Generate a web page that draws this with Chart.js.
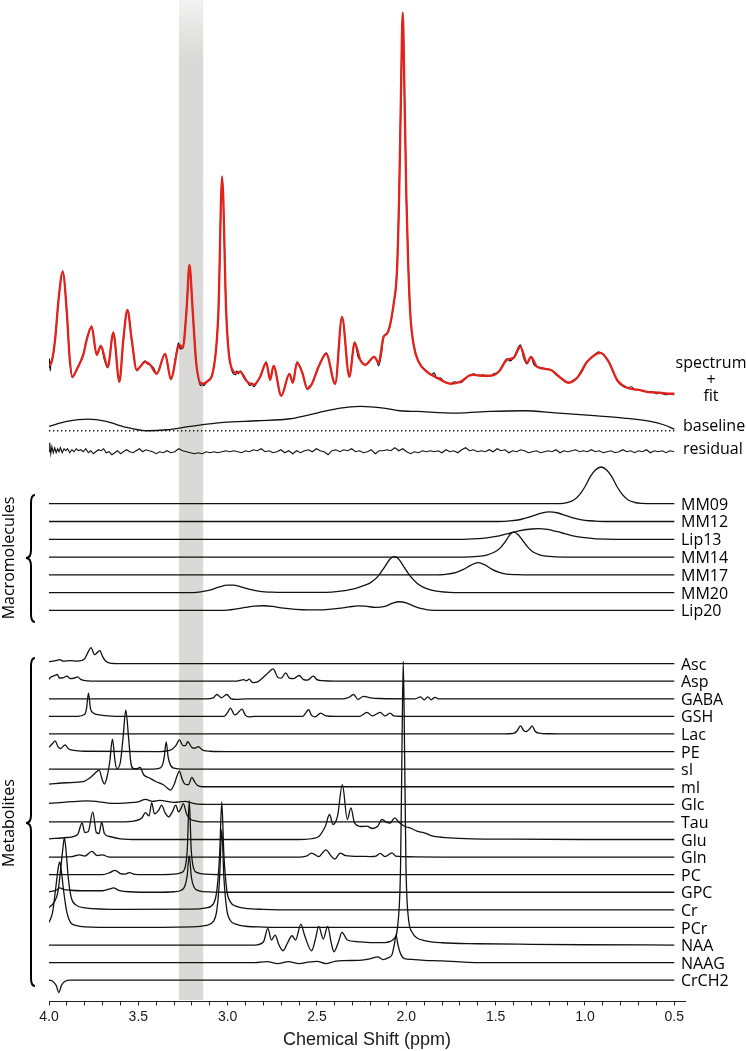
<!DOCTYPE html>
<html>
<head>
<meta charset="utf-8">
<title>Spectral fit</title>
<script src="https://cdn.jsdelivr.net/npm/chart.js@4.4.0/dist/chart.umd.min.js"></script>
<style>
  html, body { margin: 0; padding: 0; background: #fff; }
  #wrap { width: 746px; height: 1051px; }
</style>
</head>
<body>
<div id="wrap"><canvas id="mrsChart" width="746" height="1051"></canvas></div>
<script>
// Datos: [ppm, altura] (altura en px sobre la linea base de cada traza)

const tickValues = [4.0, 3.9, 3.8, 3.7, 3.6, 3.5, 3.4, 3.3, 3.2, 3.1, 3.0, 2.9, 2.8, 2.7, 2.6, 2.5, 2.4, 2.3, 2.2, 2.1, 2.0, 1.9, 1.8, 1.7, 1.6, 1.5, 1.4, 1.3, 1.2, 1.1, 1.0, 0.9, 0.8, 0.7, 0.6, 0.5];
const tickText = ['4.0', '', '', '', '', '3.5', '', '', '', '', '3.0', '', '', '', '', '2.5', '', '', '', '', '2.0', '', '', '', '', '1.5', '', '', '', '', '1.0', '', '', '', '', '0.5'];

const macroLabels = ['MM09', 'MM12', 'Lip13', 'MM14', 'MM17', 'MM20', 'Lip20'];
const metabLabels = ['Asc', 'Asp', 'GABA', 'GSH', 'Lac', 'PE', 'sI', 'mI', 'Glc', 'Tau', 'Glu', 'Gln', 'PC', 'GPC', 'Cr', 'PCr', 'NAA', 'NAAG', 'CrCH2'];

// Espectro ajustado (rojo)
const fitSpectrum = [[4.00,29],[3.985,33],[3.966,55],[3.945,98],[3.923,123],[3.90,82],[3.885,38],[3.869,18],[3.84,27],[3.808,40],[3.789,55],[3.761,68],[3.733,40],[3.71,49],[3.671,28],[3.64,62],[3.606,13],[3.584,55],[3.561,85],[3.537,55],[3.509,25],[3.49,28],[3.462,33],[3.434,30],[3.397,21],[3.35,41],[3.318,16],[3.27,50],[3.251,47],[3.229,88],[3.214,130],[3.195,82],[3.176,32],[3.145,11],[3.117,13],[3.08,25],[3.052,82],[3.031,218],[3.008,82],[2.986,32],[2.949,22],[2.93,23],[2.89,13],[2.855,10],[2.818,18],[2.784,32],[2.762,15],[2.743,29],[2.70,-1],[2.654,21],[2.635,12],[2.612,32],[2.584,23],[2.553,6],[2.528,11],[2.491,28],[2.448,41],[2.398,11],[2.36,78],[2.319,18],[2.289,52],[2.258,35],[2.23,30],[2.179,38],[2.155,32],[2.127,58],[2.105,62],[2.07,92],[2.052,125],[2.04,200],[2.03,300],[2.02,382],[2.01,300],[2.0,200],[1.99,135],[1.978,82],[1.959,50],[1.931,33],[1.884,23],[1.828,17],[1.753,11],[1.697,13],[1.65,19],[1.623,20],[1.57,19],[1.529,19],[1.483,23],[1.436,35],[1.399,37],[1.361,48],[1.324,32],[1.302,38],[1.268,28],[1.193,25],[1.137,17],[1.091,12],[1.044,17],[0.988,33],[0.913,42],[0.867,33],[0.82,15],[0.764,7],[0.70,5],[0.652,3],[0.58,2],[0.52,1],[0.50,1]];

// Espectro medido (negro)
const measuredSpectrum = [[4.00,27],[3.997,36],[3.993,24],[3.99,31],[3.985,34],[3.975,42],[3.966,55],[3.945,98],[3.923,124],[3.90,82],[3.885,38],[3.869,17],[3.855,22],[3.84,27],[3.825,33],[3.808,41],[3.789,55],[3.761,69],[3.745,50],[3.733,40],[3.71,49],[3.69,35],[3.671,27],[3.64,63],[3.606,13],[3.584,55],[3.561,85],[3.537,55],[3.509,24],[3.49,28],[3.475,32],[3.462,34],[3.45,31],[3.434,30],[3.415,27],[3.397,21],[3.35,41],[3.318,15],[3.28,49],[3.275,52],[3.265,46],[3.251,47],[3.229,88],[3.214,130],[3.195,82],[3.176,32],[3.15,9],[3.145,12],[3.135,9],[3.117,13],[3.08,25],[3.052,82],[3.031,219],[3.008,82],[2.986,32],[2.955,20],[2.949,24],[2.94,21],[2.93,24],[2.91,17],[2.89,13],[2.875,9],[2.865,12],[2.855,8],[2.84,11],[2.818,18],[2.784,33],[2.762,15],[2.743,29],[2.70,-1],[2.654,21],[2.635,12],[2.612,33],[2.584,23],[2.553,5],[2.545,8],[2.528,11],[2.491,28],[2.448,42],[2.398,11],[2.36,78],[2.319,18],[2.289,53],[2.27,38],[2.258,35],[2.245,32],[2.23,30],[2.179,38],[2.165,34],[2.155,29],[2.14,40],[2.127,58],[2.105,62],[2.07,92],[2.052,125],[2.04,200],[2.03,300],[2.02,383],[2.01,300],[2.0,200],[1.99,135],[1.978,82],[1.959,50],[1.931,33],[1.884,23],[1.86,20],[1.845,22],[1.828,16],[1.81,17],[1.79,13],[1.753,11],[1.73,13],[1.697,12],[1.67,16],[1.65,19],[1.623,21],[1.6,19],[1.57,20],[1.55,18],[1.529,19],[1.51,21],[1.483,23],[1.46,30],[1.436,36],[1.42,34],[1.399,37],[1.361,50],[1.345,38],[1.324,31],[1.302,38],[1.285,30],[1.268,28],[1.24,27],[1.22,26],[1.193,25],[1.16,20],[1.137,17],[1.11,13],[1.091,12],[1.07,14],[1.044,17],[1.02,22],[0.988,33],[0.95,39],[0.925,43],[0.913,42],[0.895,40],[0.867,33],[0.84,22],[0.82,14],[0.8,10],[0.764,7],[0.74,8],[0.72,5],[0.70,5],[0.68,4],[0.652,3],[0.62,3],[0.6,1],[0.58,2],[0.55,0],[0.52,1],[0.50,0]];

const baselineFit = [[4.0,4.3],[3.9,9.3],[3.78,11.7],[3.68,9.3],[3.565,3.3],[3.45,0],[3.34,1],[3.21,4.3],[3.024,8.3],[2.836,10],[2.65,12],[2.50,17.7],[2.37,22.7],[2.258,24.3],[2.127,22.7],[2.034,20],[1.94,19.3],[1.716,17.7],[1.53,19.3],[1.343,20],[1.156,17.7],[0.969,15.3],[0.783,12.7],[0.633,9.3],[0.56,6],[0.50,1.7]];

const zeroLine = [[4.0,0],[0.5,0]];

const residual = [[4.000,0],[3.996,9],[3.990,-2],[3.984,5],[3.976,-1],[3.968,4],[3.960,-1],[3.952,3],[3.944,0],[3.936,4],[3.926,-1],[3.916,3],[3.906,1],[3.896,3],[3.884,-1],[3.872,2],[3.860,0],[3.848,3],[3.836,1],[3.822,2],[3.808,0],[3.794,3],[3.780,-1],[3.766,1],[3.752,-2],[3.738,0],[3.724,2],[3.708,1],[3.694,3],[3.680,-1],[3.664,0],[3.648,-3],[3.632,-1],[3.616,1],[3.600,-2],[3.584,0],[3.566,2],[3.548,0],[3.530,-1],[3.512,1],[3.494,3],[3.476,0],[3.458,2],[3.440,1],[3.420,0],[3.400,-2],[3.380,0],[3.360,-1],[3.340,1],[3.318,-1],[3.296,0],[3.274,3],[3.252,1],[3.230,0],[3.208,-1],[3.186,-2],[3.164,-1],[3.142,-2],[3.120,0],[3.098,-1],[3.076,0],[3.054,-1],[3.032,0],[3.010,1],[2.988,0],[2.966,1],[2.944,0],[2.922,-1],[2.900,1],[2.878,0],[2.856,2],[2.834,1],[2.812,3],[2.790,0],[2.768,1],[2.746,-1],[2.724,0],[2.702,2],[2.680,-1],[2.658,1],[2.636,-2],[2.614,1],[2.592,-1],[2.570,1],[2.548,2],[2.526,0],[2.504,3],[2.482,1],[2.460,0],[2.438,-3],[2.416,1],[2.394,2],[2.372,0],[2.350,2],[2.328,1],[2.306,3],[2.284,0],[2.262,1],[2.240,-1],[2.218,0],[2.196,2],[2.174,-2],[2.152,1],[2.130,1],[2.108,2],[2.086,1],[2.064,4],[2.042,1],[2.020,3],[1.998,0],[1.976,-2],[1.954,0],[1.932,-1],[1.910,1],[1.888,0],[1.866,1],[1.844,0],[1.822,1],[1.800,-1],[1.778,2],[1.756,0],[1.734,1],[1.712,-1],[1.690,2],[1.668,4],[1.646,1],[1.624,2],[1.602,0],[1.580,1],[1.558,0],[1.536,2],[1.514,0],[1.492,3],[1.470,1],[1.448,2],[1.426,-1],[1.404,1],[1.382,0],[1.360,2],[1.338,1],[1.316,-1],[1.294,0],[1.272,1],[1.250,-1],[1.228,0],[1.206,1],[1.184,0],[1.162,2],[1.140,-1],[1.118,1],[1.096,0],[1.074,1],[1.052,2],[1.030,0],[1.008,1],[0.986,0],[0.964,2],[0.942,0],[0.920,1],[0.898,-1],[0.876,0],[0.854,1],[0.832,-1],[0.810,0],[0.788,2],[0.766,0],[0.744,1],[0.722,-1],[0.700,1],[0.678,0],[0.656,2],[0.634,-1],[0.612,1],[0.590,0],[0.568,1],[0.546,-1],[0.524,1],[0.500,0]];

// Macromoleculas
const mm09 = [[4.0,0],[1.14,0],[1.1,1],[1.06,4],[1.03,9],[1.0,17],[0.97,27],[0.94,34],[0.91,36.7],[0.88,34],[0.85,27],[0.82,17],[0.79,9],[0.76,4],[0.72,1.2],[0.68,0.3],[0.62,0],[0.5,0]];
const mm12 = [[4.0,0],[1.48,0],[1.42,0.6],[1.36,2],[1.30,5],[1.25,8],[1.20,9.7],[1.15,8.5],[1.10,5.5],[1.05,2.8],[1.0,1.2],[0.94,0.4],[0.88,0],[0.5,0]];
const lip13 = [[4.0,0],[1.68,0],[1.62,0.5],[1.55,1.5],[1.48,3.5],[1.43,5.7],[1.37,8.5],[1.3,10.3],[1.26,10.7],[1.21,9.8],[1.16,7.8],[1.11,5.5],[1.06,3.2],[1.0,1.6],[0.95,0.7],[0.88,0.2],[0.8,0],[0.5,0]];
const mm14 = [[4.0,0],[1.68,0],[1.6,0.6],[1.55,2],[1.5,5.5],[1.47,10],[1.44,17],[1.42,22.5],[1.397,25],[1.375,22.5],[1.35,17],[1.32,10],[1.29,5],[1.25,2],[1.2,0.6],[1.12,0],[0.5,0]];
const mm17 = [[4.0,0],[1.85,0],[1.78,0.5],[1.72,2.5],[1.68,5.5],[1.64,9.5],[1.598,12.3],[1.56,10],[1.52,5.5],[1.48,2.5],[1.44,0.8],[1.38,0.2],[1.3,0],[0.5,0]];
const mm20 = [[4.0,0],[3.22,0],[3.16,0.6],[3.1,2.5],[3.05,5.5],[3.0,7.5],[2.97,7.5],[2.92,5.5],[2.87,3],[2.82,1.3],[2.75,0.5],[2.6,0.2],[2.45,0.3],[2.38,1.2],[2.3,3.5],[2.24,7],[2.2,10],[2.16,16],[2.12,26],[2.09,34],[2.064,36],[2.04,33],[2.01,25],[1.98,17],[1.94,9.5],[1.9,5],[1.86,2.5],[1.81,1],[1.76,0.3],[1.7,0],[0.5,0]];
const lip20 = [[4.0,0],[3.05,0],[3.0,0.3],[2.95,1.5],[2.9,3],[2.85,4.3],[2.8,4.7],[2.75,4],[2.7,2.5],[2.62,1],[2.55,0.5],[2.45,0.8],[2.38,2],[2.32,3.5],[2.27,4.6],[2.23,4.3],[2.17,3],[2.12,4],[2.08,7],[2.04,8.7],[2.0,7.5],[1.96,4.5],[1.92,2],[1.88,0.6],[1.8,0],[0.5,0]];

// Metabolitos
const asc = [[4.0,2],[3.96,3],[3.94,4],[3.92,2.5],[3.88,3],[3.84,2.5],[3.80,5],[3.78,12],[3.765,16],[3.745,9],[3.73,11],[3.715,13],[3.70,7],[3.68,2],[3.66,0.5],[3.6,0],[0.5,0]];
const asp = [[4.0,2],[3.99,4],[3.97,5.5],[3.955,6.7],[3.94,3],[3.92,3.5],[3.90,5],[3.88,2.5],[3.86,3],[3.84,4.3],[3.82,1.5],[3.78,0.3],[3.7,0],[2.95,0],[2.91,1.5],[2.895,0.5],[2.88,2],[2.86,-1.5],[2.83,-0.5],[2.80,4],[2.77,9],[2.745,12.3],[2.72,4],[2.70,3],[2.675,8.3],[2.655,3],[2.63,2.5],[2.60,5.7],[2.575,1.5],[2.555,1],[2.52,5],[2.5,1.5],[2.47,0.5],[2.4,0],[0.5,0]];
const gaba = [[4.0,0],[3.12,0],[3.08,1],[3.06,4.3],[3.035,1],[3.005,4.3],[2.98,0],[2.95,-0.5],[2.9,0],[2.35,0],[2.32,1.5],[2.295,4.3],[2.27,-0.7],[2.24,2.5],[2.2,1],[2.15,0.3],[1.95,0],[1.92,2],[1.9,-1],[1.88,2],[1.86,-1],[1.84,1.5],[1.82,0],[1.7,0],[0.5,0]];
const gsh = [[4.0,0],[3.84,0],[3.80,2],[3.79,8],[3.779,23.3],[3.768,8],[3.75,3],[3.72,1.5],[3.65,0.3],[3.5,0],[3.02,0],[3.0,4],[2.985,8.3],[2.96,1.5],[2.945,3],[2.92,7.3],[2.90,1],[2.88,-0.5],[2.85,0],[2.58,0],[2.565,3],[2.547,6.7],[2.53,1],[2.51,-0.5],[2.48,3.3],[2.45,0.5],[2.4,0],[2.26,0],[2.22,4],[2.19,0.5],[2.17,2],[2.146,4],[2.12,0.5],[2.09,3.3],[2.07,0.5],[2.0,0],[0.5,0]];
const lac = [[4.0,0],[1.45,0],[1.40,0.5],[1.38,3],[1.361,8],[1.345,4],[1.33,2.3],[1.31,5],[1.296,8],[1.28,3],[1.26,0.8],[1.2,0.2],[1.1,0],[0.5,0]];
const pe = [[4.0,4.3],[3.98,8],[3.966,10.7],[3.95,5],[3.935,3],[3.91,6.7],[3.89,2.5],[3.85,1],[3.8,0.3],[3.4,0],[3.32,1.5],[3.29,6],[3.27,11.7],[3.25,6],[3.235,6],[3.224,10],[3.20,4],[3.18,3.5],[3.165,5],[3.14,1.5],[3.1,0.3],[3.0,0],[0.5,0]];
const sI = [[4.0,0],[3.42,0],[3.38,1],[3.365,4],[3.355,12],[3.344,27.3],[3.333,12],[3.32,4],[3.30,1],[3.25,0],[0.5,0]];
const mI = [[4.0,2.7],[3.90,4],[3.81,5],[3.77,9],[3.74,14],[3.72,16.7],[3.70,6],[3.69,2.7],[3.675,10],[3.66,25],[3.645,47.7],[3.63,25],[3.62,18],[3.60,25],[3.585,50],[3.57,76.7],[3.555,50],[3.54,22],[3.525,18],[3.51,18],[3.49,19.3],[3.47,12],[3.44,9],[3.40,5],[3.36,2],[3.34,-1],[3.32,-3.3],[3.30,2],[3.285,10],[3.27,15.7],[3.255,8],[3.24,2.7],[3.22,2],[3.20,9.3],[3.185,5],[3.17,1.5],[3.14,0],[3.0,0],[0.5,0]];
const glc = [[4.0,1],[3.92,2],[3.84,3],[3.78,3.5],[3.72,2.5],[3.65,1],[3.56,1.5],[3.5,2.5],[3.46,5],[3.42,3],[3.38,4],[3.3,2],[3.24,3],[3.18,0.5],[3.1,0],[0.5,0]];
const tau = [[4.0,0],[3.6,0],[3.52,1],[3.48,4],[3.46,9.3],[3.44,6],[3.425,19.3],[3.41,8],[3.385,12],[3.37,16.7],[3.35,9],[3.33,5],[3.31,10],[3.29,16.7],[3.275,10],[3.262,13],[3.248,18.3],[3.23,8],[3.21,3],[3.18,1],[3.15,0],[0.5,0]];
const glu = [[4.0,0.7],[3.9,2],[3.84,5],[3.815,16.7],[3.80,7],[3.78,8],[3.755,27.7],[3.735,7],[3.72,6],[3.705,17.3],[3.69,6],[3.66,3],[3.6,0.7],[3.5,0],[2.6,0],[2.5,2],[2.453,13.3],[2.43,25],[2.41,15],[2.385,23.3],[2.358,55],[2.33,20],[2.31,31.7],[2.29,16.7],[2.25,13],[2.22,13.3],[2.19,11],[2.16,13.3],[2.136,20],[2.11,17],[2.09,16.5],[2.065,21.7],[2.04,17],[2.0,12.5],[1.98,11.7],[1.94,8.3],[1.90,6.7],[1.85,3.3],[1.76,1.7],[1.63,0.7],[1.4,0.3],[1.0,0],[0.5,0]];
const gln = [[4.0,0],[3.87,0.5],[3.83,2.3],[3.80,1],[3.76,5.7],[3.73,1.5],[3.70,2.3],[3.67,0.3],[3.6,0],[2.6,0],[2.56,1],[2.53,4],[2.49,0.5],[2.45,7.3],[2.42,1],[2.40,-2],[2.37,4],[2.34,1.5],[2.25,0.7],[2.2,0.5],[2.17,1],[2.146,3.7],[2.12,0.5],[2.08,4.3],[2.06,1],[2.02,0.5],[1.95,0.2],[1.8,0],[0.5,0]];
const pc = [[4.0,0],[3.7,0],[3.66,2],[3.63,4.3],[3.60,1],[3.575,0.5],[3.55,2],[3.52,0.3],[3.4,0],[3.30,0.5],[3.26,2],[3.24,6],[3.226,25],[3.215,74],[3.204,25],[3.19,6],[3.17,2],[3.12,0.5],[3.0,0],[0.5,0]];
const gpc = [[4.0,0.5],[3.96,2],[3.94,4.3],[3.92,3],[3.88,2],[3.82,1.5],[3.7,1.5],[3.66,3.3],[3.64,4.3],[3.61,2],[3.55,0.5],[3.4,0],[3.3,0.5],[3.26,2],[3.24,6],[3.227,16],[3.215,36.7],[3.203,15],[3.188,5],[3.16,1.5],[3.1,0.3],[3.0,0],[0.5,0]];
const cr = [[4.0,2.3],[3.97,8],[3.95,18],[3.935,40],[3.922,62],[3.914,72],[3.906,62],[3.892,32],[3.875,12],[3.85,5],[3.8,2],[3.6,0.5],[3.2,0.7],[3.12,2],[3.08,6],[3.06,20],[3.045,55],[3.033,108],[3.021,55],[3.005,20],[2.985,8],[2.95,3.5],[2.9,1.5],[2.8,0.5],[2.6,0],[0.5,0]];
const pcr = [[4.0,5],[3.98,15],[3.962,40],[3.948,60],[3.94,65.6],[3.932,58],[3.917,35],[3.9,15],[3.88,5],[3.85,2],[3.8,0.5],[3.6,0],[3.2,0.5],[3.12,2],[3.08,6],[3.06,18],[3.045,50],[3.033,98],[3.021,50],[3.005,18],[2.985,7],[2.95,3],[2.9,1.2],[2.8,0.4],[2.6,0],[0.5,0]];
const naa = [[4.0,0],[2.85,0],[2.8,3],[2.775,16.7],[2.755,5],[2.734,10],[2.715,1],[2.69,-5.7],[2.665,2],[2.64,9.3],[2.62,5],[2.59,21],[2.57,10],[2.53,-5.7],[2.51,5],[2.49,18.7],[2.465,6],[2.44,18.7],[2.42,2],[2.405,-6.7],[2.38,3],[2.36,12.7],[2.33,5],[2.28,3.5],[2.2,2.5],[2.12,2.5],[2.07,6],[2.045,25],[2.032,80],[2.024,200],[2.017,284],[2.01,200],[2.002,80],[1.99,30],[1.965,12],[1.94,7],[1.9,4.5],[1.8,2.3],[1.6,1.3],[1.3,0.7],[1.0,0.3],[0.5,0]];
const naag = [[4.0,0],[2.85,0],[2.78,1],[2.72,-1],[2.66,1],[2.6,-1],[2.55,0.5],[2.5,1.3],[2.45,-1],[2.4,1.3],[2.35,2],[2.27,2.3],[2.22,3.3],[2.2,4],[2.16,5.7],[2.13,3],[2.10,5],[2.08,8],[2.067,18],[2.057,27.3],[2.047,18],[2.03,8],[2.01,4],[1.97,3.3],[1.9,2.3],[1.8,1.7],[1.7,0.7],[1.6,0],[0.5,0]];
const crch2 = [[4.0,0],[3.98,-1],[3.96,-5],[3.945,-12.3],[3.93,-5],[3.91,-1],[3.88,0],[0.5,0]];

const macroTraces = [mm09, mm12, lip13, mm14, mm17, mm20, lip20];
const metabTraces = [asc, asp, gaba, gsh, lac, pe, sI, mI, glc, tau, glu, gln, pc, gpc, cr, pcr, naa, naag, crch2];

// Posiciones verticales (px) de cada traza
const SPECTRUM_ROW = 395;
const BASELINE_ROW = 431;
const RESIDUAL_ROW = 452;
const MACRO_TOP = 504, MACRO_STEP = 17.8;
const METAB_TOP = 664, METAB_STEP = 17.6;
const BAND = [3.272, 3.137]; // banda gris (ppm)

const RED = 'rgb(226, 35, 28)';
const labelFont = '16px "Open Sans", "Noto Sans", sans-serif';

const toPoints = (trace, row) => trace.map(([ppm, h]) => ({ x: ppm, y: row - h }));

function trace(data, color, width, smooth = true, dash) {
    return {
        data: data,
        borderColor: color,
        borderWidth: width,
        borderDash: dash || [],
        pointRadius: 0,
        fill: false,
        tension: smooth ? 0.4 : 0,
        cubicInterpolationMode: smooth ? 'monotone' : 'default'
    };
}

const datasets = [
    trace(toPoints(fitSpectrum, SPECTRUM_ROW), RED, 2.3),
    trace(toPoints(measuredSpectrum, SPECTRUM_ROW), '#111', 1.2),
    trace(toPoints(baselineFit, BASELINE_ROW), '#111', 1.3),
    trace(toPoints(zeroLine, BASELINE_ROW), '#111', 1.4, false, [1.3, 2.7]),
    trace(toPoints(residual, RESIDUAL_ROW), '#111', 1.1, false)
];
macroTraces.forEach((t, i) => datasets.push(trace(toPoints(t, MACRO_TOP + i * MACRO_STEP), '#111', 1.3)));
metabTraces.forEach((t, i) => datasets.push(trace(toPoints(t, METAB_TOP + i * METAB_STEP), '#111', 1.3)));

// Banda gris detras de las trazas
const bandPlugin = {
    id: 'band',
    beforeDatasetsDraw(chart) {
        const { ctx, scales: { x } } = chart;
        const x0 = x.getPixelForValue(BAND[0]);
        const x1 = x.getPixelForValue(BAND[1]);
        const grad = ctx.createLinearGradient(0, 0, 0, 60);
        grad.addColorStop(0, 'rgba(218, 217, 216, 0.35)');
        grad.addColorStop(1, 'rgba(218, 217, 216, 1)');
        ctx.save();
        ctx.fillStyle = grad;
        ctx.fillRect(x0, 0, x1 - x0, 1000);
        ctx.restore();
    }
};

function drawBrace(ctx, x, top, tip, bottom) {
    ctx.beginPath();
    ctx.moveTo(x + 4, top);
    ctx.quadraticCurveTo(x, top, x, top + 8);
    ctx.lineTo(x, tip - 8);
    ctx.quadraticCurveTo(x, tip, x - 5, tip);
    ctx.quadraticCurveTo(x, tip, x, tip + 8);
    ctx.lineTo(x, bottom - 8);
    ctx.quadraticCurveTo(x, bottom, x + 4, bottom);
    ctx.stroke();
}

function rotatedText(ctx, text, x, y) {
    ctx.save();
    ctx.translate(x, y);
    ctx.rotate(-Math.PI / 2);
    ctx.textAlign = 'center';
    ctx.textBaseline = 'middle';
    ctx.fillText(text, 0, 0);
    ctx.restore();
}

// Etiquetas de las trazas y llaves de la izquierda
const labelsPlugin = {
    id: 'traceLabels',
    afterDraw(chart) {
        const { ctx } = chart;
        ctx.save();
        ctx.fillStyle = '#000';
        ctx.font = labelFont;
        ctx.textBaseline = 'middle';
        ctx.textAlign = 'center';
        ctx.fillText('spectrum', 711, 363);
        ctx.fillText('+', 711, 380);
        ctx.fillText('fit', 711, 396);
        ctx.textAlign = 'left';
        ctx.fillText('baseline', 683, 426);
        ctx.fillText('residual', 683, 449);
        macroLabels.forEach((t, i) => ctx.fillText(t, 681, MACRO_TOP + i * MACRO_STEP + 1));
        metabLabels.forEach((t, i) => ctx.fillText(t, 681, METAB_TOP + i * METAB_STEP + 1));

        ctx.strokeStyle = '#000';
        ctx.lineWidth = 2;
        drawBrace(ctx, 31, 495, 558, 622);
        drawBrace(ctx, 31, 658, 823, 986);
        rotatedText(ctx, 'Macromolecules', 9, 558);
        rotatedText(ctx, 'Metabolites', 9, 823);
        ctx.restore();
    }
};

new Chart(document.getElementById('mrsChart'), {
    type: 'line',
    data: { datasets: datasets },
    options: {
        responsive: false,
        animation: false,
        layout: { padding: { left: 49, right: 61, top: 0, bottom: 0 } },
        plugins: { legend: { display: false }, tooltip: { enabled: false } },
        scales: {
            x: {
                type: 'linear',
                min: 0.44,
                max: 4.0,
                reverse: true,
                afterBuildTicks: (axis) => { axis.ticks = tickValues.map(v => ({ value: v })); },
                ticks: {
                    autoSkip: false,
                    maxRotation: 0,
                    padding: 5,
                    color: '#1a1a1a',
                    font: { family: '"Liberation Sans", Arial, sans-serif', size: 14, lineHeight: 1 },
                    callback: (v, i) => tickText[i]
                },
                grid: { drawOnChartArea: false, drawTicks: true, tickLength: 4, color: '#222' },
                border: { color: '#222', width: 1 },
                title: {
                    display: true,
                    text: 'Chemical Shift (ppm)',
                    color: '#1a1a1a',
                    font: { family: '"Liberation Sans", Arial, sans-serif', size: 18 },
                    padding: { top: 0, bottom: 0 }
                }
            },
            y: { display: false, min: 0, max: 1002, reverse: true }
        }
    },
    plugins: [bandPlugin, labelsPlugin]
});
</script>
</body>
</html>
